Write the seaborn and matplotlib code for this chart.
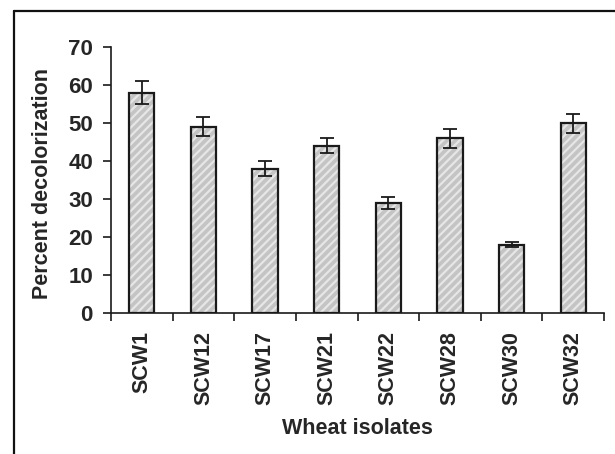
import numpy as np
import pandas as pd
import matplotlib
matplotlib.use("Agg")
import matplotlib.pyplot as plt
from matplotlib.lines import Line2D
import seaborn as sns

# values
isolates = ["SCW1", "SCW12", "SCW17", "SCW21", "SCW22", "SCW28", "SCW30", "SCW32"]
decolorization = [58, 49, 38, 44, 29, 46, 18, 50]
errors = [3.0, 2.5, 2.0, 2.0, 1.5, 2.5, 0.7, 2.5]
y_ticks = [0, 10, 20, 30, 40, 50, 60, 70]

df = pd.DataFrame({"Isolate": isolates, "Decolorization": decolorization})

sns.set_style("ticks")
plt.rcParams['font.family'] = ['Liberation Sans', 'DejaVu Sans']
plt.rcParams['font.weight'] = 'bold'
plt.rcParams['hatch.linewidth'] = 1.6
plt.rcParams['hatch.color'] = '#e6e6e6'

fig = plt.figure(figsize=(6.15, 4.54), dpi=100)
ax = fig.add_axes([111 / 615, 1 - 313 / 454, 493 / 615, 266 / 454])

# hatched fill
sns.barplot(data=df, x="Isolate", y="Decolorization", ax=ax, color="#c4c4c4",
            width=0.41, errorbar=None, saturation=1, linewidth=0)
for p in ax.patches:
    p.set_hatch('////')
    p.set_edgecolor('#e6e6e6')
    p.set_linewidth(0)

# black outlines on top
sns.barplot(data=df, x="Isolate", y="Decolorization", ax=ax, fill=False,
            width=0.41, errorbar=None, edgecolor="#1a1a1a", linewidth=1.6)

ax.errorbar(np.arange(len(isolates)), decolorization, yerr=errors, fmt='none',
            ecolor='#1a1a1a', elinewidth=1.3, capsize=5, capthick=1.3)

ax.set_ylim(0, 70)
ax.set_xlim(-0.5, len(isolates) - 0.5)
ax.set_yticks(y_ticks)
ax.set_yticklabels([str(t) for t in y_ticks], fontsize=16, fontweight='bold')
ax.set_xticks(range(len(isolates)))
ax.set_xticklabels(isolates, rotation=90, fontsize=15.5, fontweight='bold')
ax.set_xticks(np.arange(-0.5, len(isolates), 1), minor=True)
ax.tick_params(axis='x', which='major', length=0, pad=13)
ax.tick_params(axis='x', which='minor', length=6, width=1.2, direction='out', color='#1a1a1a')
ax.tick_params(axis='y', length=6, width=1.2, direction='out', pad=7, color='#1a1a1a')

sns.despine(ax=ax)
for s in ['left', 'bottom']:
    ax.spines[s].set_linewidth(1.2)
    ax.spines[s].set_color('#1a1a1a')

ax.set_ylabel("Percent decolorization", fontsize=15.5, fontweight='bold')
ax.set_xlabel("Wheat isolates", fontsize=15.5, fontweight='bold')
ax.yaxis.set_label_coords(-0.118, 0.487)
ax.xaxis.set_label_coords(0.5, -0.395)

# outer frame (left and top edges)
fx = 13.5 / 615
fy = 1 - 10.5 / 454
fig.add_artist(Line2D([fx, fx], [0, fy], transform=fig.transFigure, color='#111111', lw=1.6))
fig.add_artist(Line2D([fx, 1], [fy, fy], transform=fig.transFigure, color='#111111', lw=1.6))

fig.savefig("out.png", dpi=100)
